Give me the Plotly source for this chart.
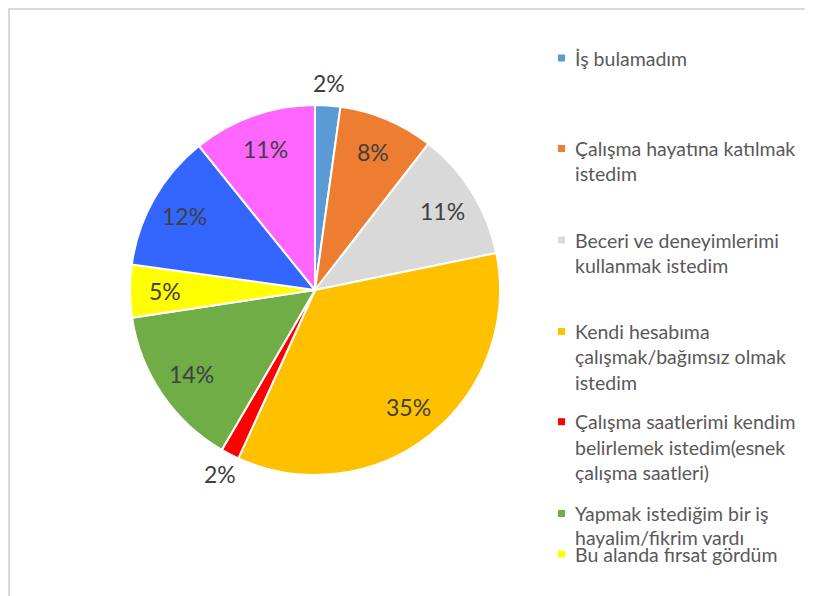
import math
import plotly.graph_objects as go

# ---- data ----
categories = [
    "İş bulamadım",
    "Çalışma hayatına katılmak istedim",
    "Beceri ve deneyimlerimi kullanmak istedim",
    "Kendi hesabıma çalışmak/bağımsız olmak istedim",
    "Çalışma saatlerimi kendim belirlemek istedim(esnek çalışma saatleri)",
    "Yapmak istediğim bir iş hayalim/fikrim vardı",
    "Bu alanda fırsat gördüm",
    "Diğer (1)",
    "Diğer (2)",
]
values = [2.2, 8.3, 11.3, 35.0, 1.6, 14.2, 4.6, 12.0, 10.8]
colors = ["#5B9BD5", "#ED7D31", "#D9D9D9", "#FFC000", "#FF0000",
          "#70AD47", "#FFFF00", "#3366FF", "#FF66FF"]
# legend text as wrapped in the reference (only first 7 entries visible)
legend_lines = [
    ["İş bulamadım"],
    ["Çalışma hayatına katılmak", "istedim"],
    ["Beceri ve deneyimlerimi", "kullanmak istedim"],
    ["Kendi hesabıma", "çalışmak/bağımsız olmak", "istedim"],
    ["Çalışma saatlerimi kendim", "belirlemek istedim(esnek", "çalışma saatleri)"],
    ["Yapmak istediğim bir iş", "hayalim/fikrim vardı"],
    ["Bu alanda fırsat gördüm"],
]
outside = [True, False, False, False, True, False, False, False, False]

# ---- layout geometry (figure pixels; page adds an 8px body margin) ----
W, H = 813, 596
CX, CY, R = 307, 282, 185
FONT = "Lato"

def px(x):
    return x / W

def py(y):
    return 1 - y / H

fig = go.Figure(go.Pie(
    labels=categories,
    values=values,
    sort=False,
    direction="clockwise",
    rotation=0,
    marker=dict(colors=colors, line=dict(color="white", width=2)),
    textinfo="none",
    hoverinfo="label+percent",
    domain=dict(x=[px(CX - R), px(CX + R)], y=[py(CY + R), py(CY - R)]),
    showlegend=False,
))

annotations = []
shapes = []
# percentage labels
total = sum(values)
cum = 0
for v, out in zip(values, outside):
    mid = (cum + v / 2) / total * 2 * math.pi
    cum += v
    f = 1.12 if out else 0.81
    x = CX + R * f * math.sin(mid)
    y = CY - R * f * math.cos(mid)
    annotations.append(dict(
        x=px(x), y=py(y), xref="paper", yref="paper",
        text=f"{round(v / total * 100)}%", showarrow=False,
        xanchor="center", yanchor="middle",
        font=dict(family=FONT, size=23, color="#404040"),
    ))

# manual legend (mimics the squeezed Excel legend)
entry_y = [50, 140.5, 232, 323.5, 413.7, 505.5, 546]
line_gap = [25, 25, 25, 25.3, 25.6, 23.5, 25]
for i, lines in enumerate(legend_lines):
    y0 = entry_y[i]
    shapes.append(dict(type="rect", xref="paper", yref="paper",
                       x0=px(550), x1=px(557), y0=py(y0 + 3.5), y1=py(y0 - 3.5),
                       fillcolor=colors[i], line=dict(width=0)))
    for j, t in enumerate(lines):
        annotations.append(dict(
            x=px(565), y=py(y0 + j * line_gap[i]), xref="paper", yref="paper",
            text=t, showarrow=False, xanchor="left", yanchor="middle",
            font=dict(family=FONT, size=19.5, color="#595959"),
        ))

# chart area border
shapes.append(dict(type="rect", xref="paper", yref="paper",
                   x0=px(1), x1=1.2, y0=-0.2, y1=py(1),
                   line=dict(color="#D9D9D9", width=2), fillcolor="rgba(0,0,0,0)"))

fig.update_layout(
    width=W, height=H,
    margin=dict(l=0, r=0, t=0, b=0),
    paper_bgcolor="white",
    plot_bgcolor="white",
    annotations=annotations,
    shapes=shapes,
)

fig.write_html("out.html")
